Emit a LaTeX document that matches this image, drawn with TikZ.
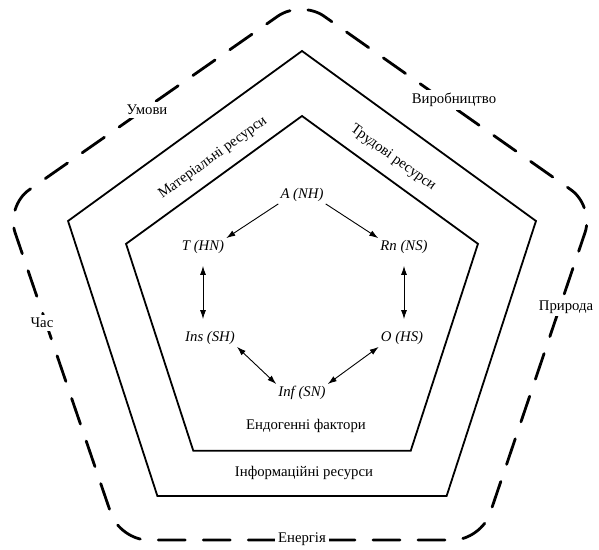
\documentclass[tikz,border=0pt]{standalone}
\usepackage{fontspec}
\setmainfont{Liberation Serif}
\usetikzlibrary{shapes.geometric,arrows.meta}

\begin{document}
\begin{tikzpicture}[
            x=1bp, y=-1bp,
            every node/.style={font=\fontsize{14.8}{17}\selectfont, inner sep=2bp},
            pent/.style={regular polygon, regular polygon sides=5, draw, line width=1.8bp, inner sep=0pt},
            env/.style={line width=2.8bp, dash pattern=on 27bp off 18bp, line cap=round, rounded corners=28bp},
            outlbl/.style={fill=white, inner sep=3bp},
            fac/.style={font=\fontsize{14.8}{17}\selectfont\itshape},
            arr/.style={-{Latex[length=9bp,width=6bp]}, line width=0.9bp},
            dbl/.style={{Latex[length=9bp,width=6bp]}-{Latex[length=9bp,width=6bp]}, line width=0.9bp},
        ]
            \useasboundingbox (0,0) rectangle (599,550);
            % dashed envelope
            \draw[env] (300,540) -- (481,540) -- (594,206) -- (301,0) -- (6,206) -- (120,540) -- cycle;
            \node [pent, minimum size=492bp] (res) at (302,297) {};
            \node [pent, minimum size=370bp] (endo) at (302,301) {};

            \node [outlbl] (cond) at (147,110) {Умови};
            \node [outlbl] (prod) at (454,100) {Виробництво};
            \node [outlbl] (time) at (42,323) {Час};
            \node [outlbl] (nat) at (566,307) {Природа};
            \node [outlbl] (enrg) at (302,539) {Енергія};
            \node [rotate=36] (mat) at (213,158) {Матеріальні ресурси};
            \node [rotate=-36] (lab) at (393,158) {Трудові ресурси};
            \node (info) at (304,473) {Інформаційні ресурси};
            \node (endf) at (306,426) {Ендогенні фактори};

            \node [fac] (A) at (302,195) {A (NH)};
            \node [fac] (T) at (203,247) {T (HN)};
            \node [fac] (Rn) at (404,247) {Rn (NS)};
            \node [fac] (Ins) at (210,338) {Ins (SH)};
            \node [fac] (O) at (402,338) {O (HS)};
            \node [fac] (Inf) at (302,393) {Inf (SN)};

            \draw [arr] (A.south west) -- (T.north east);
            \draw [arr] (A.south east) -- (Rn.north west);
            \draw [dbl, shorten <=10bp, shorten >=10bp] (T.south) -- (T.south |- Ins.north);
            \draw [dbl, shorten <=10bp, shorten >=10bp] (Rn.south) -- (Rn.south |- O.north);
            \draw [dbl] (Ins.south east) -- (Inf.north west);
            \draw [dbl] (O.south west) -- (Inf.north east);
        \end{tikzpicture}
\end{document}
